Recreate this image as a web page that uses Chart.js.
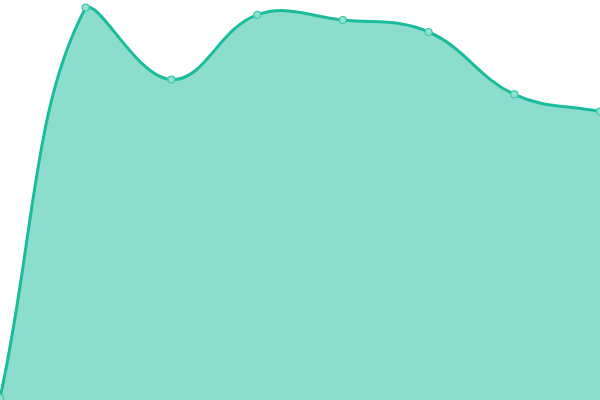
<!DOCTYPE html>
<html>
<head>
<meta charset="utf-8">
<script src="https://cdn.jsdelivr.net/npm/chart.js@4/dist/chart.umd.min.js"></script>
<style>
  html, body { margin: 0; padding: 0; background: #fff; }
  #wrap { width: 600px; height: 400px; }
</style>
</head>
<body>
<div id="wrap"><canvas id="areaChart"></canvas></div>
<script>
// chart values (y axis 0..100, hidden)
const labels = ["1", "2", "3", "4", "5", "6", "7", "8"];
const values = [0.5, 98.1, 80.1, 96.3, 95, 92, 76.4, 72.1];
const yMin = 0;
const yMax = 100;

const lineColor = "#1abc9c";

new Chart(document.getElementById("areaChart"), {
  type: "line",
  data: {
    labels: labels,
    datasets: [{
      data: values,
      fill: true,
      backgroundColor: "rgba(26, 188, 156, 0.5)",
      borderColor: lineColor,
      borderWidth: 3,
      tension: 0.4,
      pointRadius: 3.5,
      pointBorderWidth: 1.2,
      pointBackgroundColor: "#8fe1d1",
      pointBorderColor: "#3fc6aa",
    }],
  },
  options: {
    responsive: true,
    maintainAspectRatio: false,
    animation: false,
    layout: { padding: 0, autoPadding: false },
    plugins: {
      legend: { display: false },
      tooltip: { enabled: false },
    },
    scales: {
      x: { display: false },
      y: { display: false, min: yMin, max: yMax },
    },
  },
});
</script>
</body>
</html>
